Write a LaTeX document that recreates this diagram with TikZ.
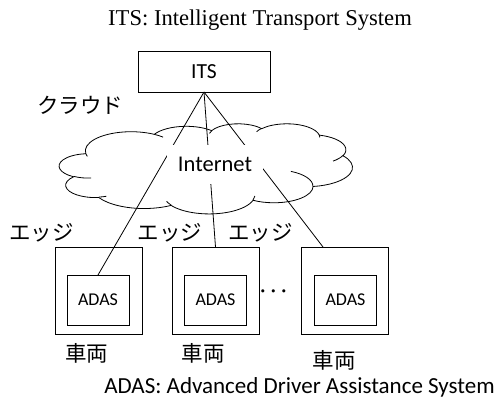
\documentclass[tikz,border=0pt]{standalone}
\usepackage{fontspec}
\setmainfont{Carlito}
\newfontfamily\titlefont{Liberation Serif}
\newfontfamily\jpfont{Noto Sans CJK JP}

% Arc of an ellipse whose start and sweep are given as visual angles
% (degrees), as in the preset cloud geometry; radii in thousandths of
% the 43200-unit frame.
\newcommand\ooarc[4]{%
  arc[x radius=#1pt, y radius=#2pt,
      start angle={atan2(#1*sin(#3),#2*cos(#3))},
      delta angle={mod(atan2(#1*sin(#3+#4),#2*cos(#3+#4))-atan2(#1*sin(#3),#2*cos(#3))+720,360)}]}

\begin{document}
\begin{tikzpicture}[x=1pt,y=-1pt,
  frame/.style={draw, line width=0.8pt, inner sep=0pt, outer sep=0pt},
  link/.style={line width=0.8pt},
  sans/.style={font=\fontsize{#1}{#1}\selectfont, inner sep=0pt},
  jp/.style={font=\jpfont\fontsize{21.5}{26}\selectfont, inner sep=0pt},
  vehicle/.style={frame, minimum width=87pt, minimum height=87pt},
  unit/.style={frame, minimum width=62pt, minimum height=50pt,
    font=\fontsize{18}{18}\selectfont}]
\useasboundingbox (0,0) rectangle (495,398);

% title
\node[font=\titlefont\fontsize{22.6}{27}\selectfont, inner sep=0pt, anchor=base]
  (title) at (260,26) {ITS: Intelligent Transport System};

% ITS server
\node[frame, minimum width=132pt, minimum height=41pt,
  font=\fontsize{21.5}{22}\selectfont] (its) at (204,71.5) {ITS};
\node[jp] (cloudlbl) at (80,105) {クラウド};

% cloud outline and its inner strokes
\begin{scope}[shift={(59.3,123.5)}, xscale=293.1/43.2, yscale=-90.1/43.2]
  \draw[fill=white, line width=0.8pt] (3.900pt,14.370pt)
    \ooarc{6.753}{9.190}{-190.4875}{123.7805}
    \ooarc{5.333}{7.267}{-144.1024}{89.9452}
    \ooarc{4.365}{5.945}{-145.8079}{99.7230}
    \ooarc{4.857}{6.595}{-130.9861}{117.2417}
    \ooarc{5.333}{7.273}{-78.7089}{109.0269}
    \ooarc{6.775}{9.220}{-46.2673}{130.2690}
    \ooarc{5.785}{7.867}{0.6250}{114.0333}
    \ooarc{6.752}{9.215}{22.4516}{115.1726}
    \ooarc{7.720}{10.543}{66.2426}{75.7110}
    \ooarc{4.360}{5.918}{-274.9421}{146.7356}
    \ooarc{4.345}{5.945}{-246.8285}{152.5189}
    -- cycle;
  \draw[line width=0.8pt]
    (4.693pt,26.177pt) \ooarc{4.345}{5.945}{86.7420}{26.4295}
    (6.928pt,34.899pt) \ooarc{4.360}{5.918}{73.6105}{11.4475}
    (16.478pt,39.090pt) \ooarc{6.752}{9.215}{137.6242}{14.0811}
    (28.827pt,34.751pt) \ooarc{6.752}{9.215}{6.4533}{15.9984}
    (34.129pt,22.954pt) \ooarc{5.785}{7.867}{-70.2924}{70.9174}
    (41.798pt,15.354pt) \ooarc{5.333}{7.273}{30.3180}{27.7515}
    (38.324pt,5.426pt) \ooarc{4.857}{6.595}{-13.7443}{14.8541}
    (29.078pt,3.952pt) \ooarc{4.857}{6.595}{-149.1815}{18.1976}
    (22.141pt,4.720pt) \ooarc{4.365}{5.945}{-163.4943}{17.6864}
    (14.000pt,5.192pt) \ooarc{6.753}{9.190}{-66.7070}{12.3194}
    (4.127pt,15.789pt) \ooarc{6.753}{9.190}{157.6544}{11.8582};
\end{scope}

% vehicles with their ADAS units
\node[vehicle] (v1) at (99,290.5) {};
\node[vehicle] (v2) at (215.5,290.5) {};
\node[vehicle] (v3) at (345,290.5) {};
\node[unit] (a1) at (98,300) {ADAS};
\node[unit] (a2) at (215.5,300) {ADAS};
\node[unit] (a3) at (345.5,300) {ADAS};
\coordinate (e3) at ([xshift=21.5pt]v3.north west);

% links from the ITS server
\draw[link] (its.south) -- (a1.north);
\draw[link] (its.south) -- (v2.north);
\draw[link] (its.south) -- (e3);

% the Internet label masks the links where they cross it
\node[fill=white, inner sep=0pt, minimum width=96pt, minimum height=39pt,
  font=\fontsize{22.5}{23}\selectfont] (inet) at (215,164.5) {Internet};

% edge labels
\node[jp] (edge1) at (41.5,233) {エッジ};
\node[jp] (edge2) at (170,233) {エッジ};
\node[jp] (edge3) at (260.5,233) {エッジ};

\node[sans=22, anchor=base] (dots) at (273.5,297) {· · ·};

% vehicle labels
\node[jp] (car1) at (86.5,353) {車両};
\node[jp] (car2) at (203,353) {車両};
\node[jp] (car3) at (334,360) {車両};

% footnote
\node[sans=23, anchor=base] (note) at (299.5,393)
  {ADAS: Advanced Driver Assistance System};
\end{tikzpicture}
\end{document}
